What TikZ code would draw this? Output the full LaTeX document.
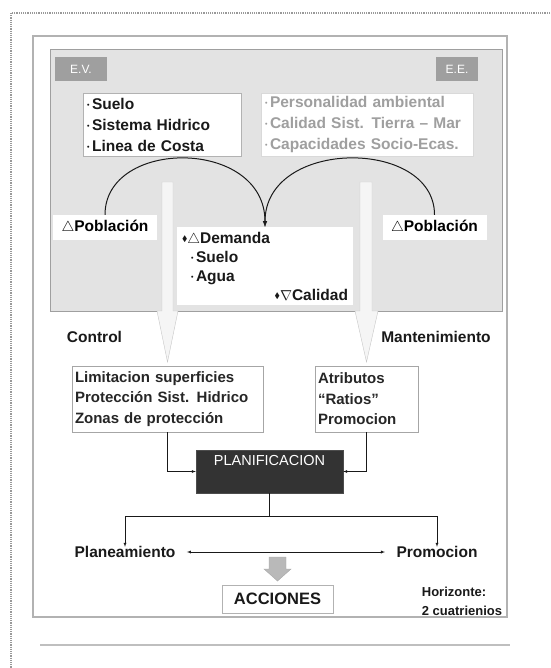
\documentclass[tikz,border=0pt]{standalone}
\usepackage{amssymb}
\usepackage{fontspec}
\setmainfont{Liberation Sans}
\usepackage{tikz}
\usetikzlibrary{arrows}

\newcommand{\itm}{\raisebox{0.12em}{\fontsize{7}{7}\selectfont\textbullet}\,}
\newcommand{\dia}{\raisebox{0.12em}{\footnotesize$\blacklozenge$}}

\tikzset{
  tag/.style={fill=gray!75, text=white, font=\fontsize{12}{14}\selectfont, minimum height=24pt},
  lst/.style={draw=gray!60, fill=white, align=left, font=\bfseries\fontsize{15.5}{21}\selectfont, inner sep=3pt},
  lbl/.style={font=\bfseries\fontsize{15.5}{19}\selectfont},
  pob/.style={fill=white, font=\bfseries\fontsize{15.5}{19}\selectfont, minimum width=104pt, minimum height=25pt}
}

\begin{document}
\begin{tikzpicture}[x=1pt,y=-1pt]
          \useasboundingbox (0,0) rectangle (550,668);
          \draw[densely dotted, line width=1.2pt, gray!80] (550,13) -- (11,13) -- (11,668);
          \draw[gray!60, line width=1.2pt] (33,36) rectangle (507,617);
          \filldraw[fill=gray!22, draw=gray!75, line width=0.8pt] (50,49) rectangle (502,311);
          % hollow arrows
          \filldraw[fill=gray!8, draw=gray!45] 
                (162,182) -- (173,182) -- (173,311) -- (178,311) -- (167.5,362) -- (157,311) -- (162,311) -- cycle
                (360,182) -- (372,182) -- (372,311) -- (378,311) -- (366.5,362) -- (355,311) -- (360,311) -- cycle;
          \node[tag, minimum width=52pt] (ev) at (81,69) {E.V.};
          \node[tag, minimum width=42pt] (ee) at (457,69) {E.E.};
          \node[lst, text=gray!20!black, minimum width=158pt, minimum height=63pt, text width=150pt] (suelo) at (162,124.5)
                {\itm Suelo\\ \itm Sistema Hidrico\\ \itm Linea de Costa};
          \node[lst, text=gray!75, draw=gray!30, minimum width=212pt, minimum height=63pt, text width=204pt] (pers) at (367,124.5)
                {\itm Personalidad ambiental\\ \itm Calidad Sist. Tierra -- Mar\\ \itm Capacidades Socio-Ecas.};
          \node[pob] (pobL) at (105,227.5) {$\triangle$Población};
          \node[pob] (pobR) at (434.5,227.5) {$\triangle$Población};
          \node[lst, draw=none, text=gray!20!black, font=\bfseries\fontsize{15.5}{19}\selectfont, minimum width=176pt, minimum height=78pt, text width=166pt] (dem) at (265,266)
                {\dia$\triangle$Demanda\\ \hspace*{9pt}\itm Suelo\\ \hspace*{9pt}\itm Agua\\ \hfill\dia$\nabla$Calidad};
          \draw[-latex, line width=1pt, gray!20!black] (pobL.north) .. controls +(0,-77) and +(0,-89) .. (dem.north);
          \draw[-latex, line width=1pt, gray!20!black] (pobR.north) .. controls +(0,-77) and +(0,-89) .. (dem.north);
          \node[lbl, text=gray!20!black] (ctrl) at (94.5,337) {Control};
          \node[lbl, text=gray!20!black] (mant) at (436,337) {Mantenimiento};
          \node[lst, text=gray!30!black, draw=gray!70, font=\bfseries\fontsize{15}{20.5}\selectfont, minimum width=191pt, minimum height=66pt, text width=185pt] (lim) at (167.5,399)
                {Limitacion superficies\\ Protección Sist. Hidrico\\ Zonas de protección};
          \node[lst, text=gray!30!black, draw=gray!70, font=\bfseries\fontsize{15}{20.5}\selectfont, minimum width=103pt, minimum height=66pt, text width=97pt] (atr) at (366.5,399)
                {Atributos\\ “Ratios”\\ Promocion};
          \node[fill=gray!40!black, draw=gray!60!black, text=white, font=\fontsize{14.5}{16}\selectfont, minimum width=147pt,
                inner sep=4pt, text height=11pt, text depth=24pt] (plan) at (269.5,471.5) {PLANIFICACION};
          \draw[-latex, gray!20!black] (lim.south) |- (plan.west);
          \draw[-latex, gray!20!black] (atr.south) |- (plan.east);
          \node[lbl, text=gray!20!black] (plane) at (125,552) {Planeamiento};
          \node[lbl, text=gray!20!black] (promo) at (437,552) {Promocion};
          \draw[gray!20!black, line width=0.9pt] (plan.south) -- ++(0,23) coordinate (split);
          \draw[-latex, gray!20!black] (split) -| ([yshift=-4pt]plane.north);
          \draw[-latex, gray!20!black] (split) -| ([yshift=-4pt]promo.north);
          \draw[latex-latex, gray!20!black, shorten <=8pt, shorten >=8pt] (plane.east) -- (promo.west);
          \node[draw=gray!60, fill=white, font=\bfseries\fontsize{16.5}{18}\selectfont, minimum width=111pt, minimum height=28pt, text=gray!20!black] (acc) at (277.5,599) {ACCIONES};
          \filldraw[fill=gray!55, draw=gray!70] 
                (269,557) -- (286,557) -- (286,569) -- (291,569) -- (277.5,581) -- (264,569) -- (269,569) -- cycle;
          \node[lbl, align=left, text=gray!20!black, font=\bfseries\fontsize{13}{19}\selectfont] (hor) at (462,601.5) {Horizonte:\\2 cuatrienios};
          \draw[gray!50, line width=1.5pt] (40,645) -- (510,645);
        \end{tikzpicture}
\end{document}
